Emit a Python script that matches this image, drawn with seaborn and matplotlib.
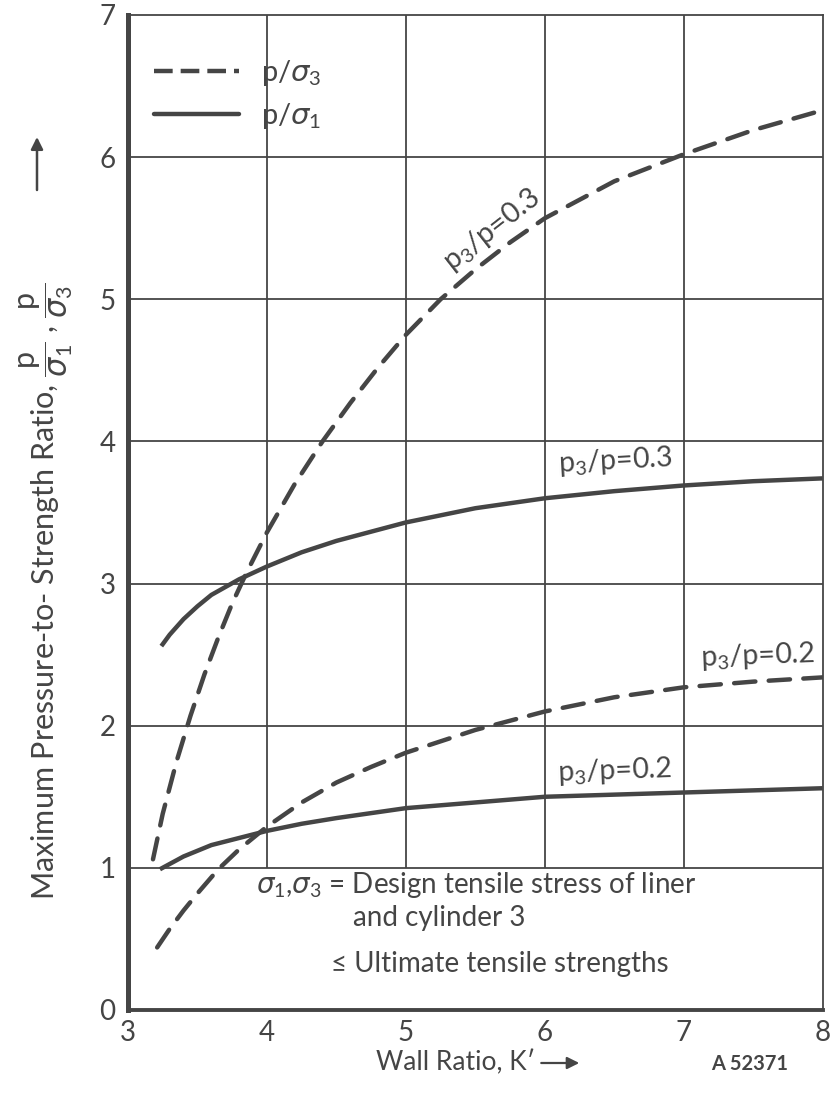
import numpy as np
import pandas as pd
import matplotlib
matplotlib.use("Agg")
import matplotlib.pyplot as plt
import seaborn as sns
from matplotlib.lines import Line2D

sns.set_theme(style="white")
plt.rcParams["font.family"] = ["Lato", "DejaVu Sans"]
plt.rcParams["mathtext.fontset"] = "custom"
plt.rcParams["mathtext.rm"] = "Lato"
plt.rcParams["mathtext.it"] = "DejaVu Sans:italic"
plt.rcParams["mathtext.sf"] = "Lato"

INK = "#454545"

# Wall ratio K' and pressure-to-strength ratios
k_s3_03 = [3.18, 3.25, 3.35, 3.45, 3.55, 3.65, 3.75, 3.85, 4.0, 4.2, 4.4, 4.6,
           4.8, 5.0, 5.25, 5.5, 5.75, 6.0, 6.5, 7.0, 7.5, 8.0]
r_s3_03 = [1.06, 1.38, 1.75, 2.07, 2.36, 2.62, 2.86, 3.07, 3.36, 3.70, 4.00, 4.27,
           4.52, 4.75, 5.00, 5.21, 5.40, 5.57, 5.83, 6.02, 6.19, 6.33]

k_s1_03 = [3.24, 3.3, 3.4, 3.5, 3.6, 3.8, 4.0, 4.25, 4.5, 5.0, 5.5, 6.0, 6.5, 7.0, 7.5, 8.0]
r_s1_03 = [2.56, 2.64, 2.75, 2.84, 2.92, 3.03, 3.12, 3.22, 3.30, 3.43, 3.53, 3.60,
           3.65, 3.69, 3.72, 3.74]

k_s3_02 = [3.21, 3.3, 3.4, 3.5, 3.65, 3.8, 4.0, 4.25, 4.5, 4.75, 5.0, 5.5, 6.0,
           6.5, 7.0, 7.5, 8.0]
r_s3_02 = [0.44, 0.57, 0.70, 0.82, 0.99, 1.13, 1.29, 1.46, 1.60, 1.71, 1.81, 1.97,
           2.10, 2.20, 2.27, 2.31, 2.34]

k_s1_02 = [3.23, 3.4, 3.6, 3.8, 4.0, 4.25, 4.5, 5.0, 5.5, 6.0, 7.0, 8.0]
r_s1_02 = [0.99, 1.08, 1.16, 1.21, 1.26, 1.31, 1.35, 1.42, 1.46, 1.50, 1.53, 1.56]

x_ticks = [3, 4, 5, 6, 7, 8]
y_ticks = [0, 1, 2, 3, 4, 5, 6, 7]

frames = []
for name, stress, k, r in [("s3_03", "p/σ3", k_s3_03, r_s3_03),
                           ("s1_03", "p/σ1", k_s1_03, r_s1_03),
                           ("s3_02", "p/σ3", k_s3_02, r_s3_02),
                           ("s1_02", "p/σ1", k_s1_02, r_s1_02)]:
    frames.append(pd.DataFrame({"K": k, "ratio": r, "curve": name, "stress": stress}))
df = pd.concat(frames, ignore_index=True)

W, H = 831, 1094
fig = plt.figure(figsize=(W / 100, H / 100), dpi=100)
ax = fig.add_axes([0.154, 0.0768, 0.836, 0.9095])

# grid: horizontal lines across, vertical lines only above ratio 1
ax.hlines(y_ticks[1:-1], 3, 8, color=INK, lw=1.3, zorder=1)
ax.vlines(x_ticks[1:-1], 1, 7, color=INK, lw=1.3, zorder=1)

sns.lineplot(data=df, x="K", y="ratio", units="curve", style="stress",
             estimator=None, sort=False, color=INK, lw=3.2,
             dashes={"p/σ3": (4.8, 3.0), "p/σ1": ""},
             legend=False, ax=ax, zorder=3)
for ln in ax.lines:
    ln.set_solid_capstyle("butt")
    ln.set_solid_joinstyle("round")
    ln.set_dash_capstyle("round")

ax.set_xlim(3, 8)
ax.set_ylim(0, 7)
ax.set_xticks(x_ticks)
ax.set_yticks(y_ticks)
ax.tick_params(axis="x", direction="in", length=11, width=1.2, color=INK,
               labelsize=20, labelcolor=INK, pad=7)
ax.tick_params(axis="y", length=0, labelsize=20, labelcolor=INK, pad=9)
ax.set_xlabel("")
ax.set_ylabel("")

for side, lw in [("left", 3.6), ("bottom", 2.8), ("top", 1.3), ("right", 1.3)]:
    ax.spines[side].set_visible(True)
    ax.spines[side].set_color(INK)
    ax.spines[side].set_linewidth(lw)

# legend
handles = [Line2D([], [], color=INK, lw=3.2, dashes=(4.2, 1.8)),
           Line2D([], [], color=INK, lw=3.2)]
leg = ax.legend(handles, [r"p/$\sigma_3$", r"p/$\sigma_1$"], loc="upper left",
                bbox_to_anchor=(0.0, 0.983), frameon=False, fontsize=21,
                handlelength=2.9, handletextpad=0.75, labelspacing=0.45)
for t in leg.get_texts():
    t.set_color(INK)

lab = dict(color=INK, fontsize=20.5, ha="center", va="center", rotation_mode="anchor")
ax.text(5.62, 5.49, r"p$_3$/p=0.3", rotation=38, **lab)
ax.text(6.51, 3.86, r"p$_3$/p=0.3", rotation=3, **lab)
ax.text(7.53, 2.49, r"p$_3$/p=0.2", rotation=2, **lab)
ax.text(6.50, 1.68, r"p$_3$/p=0.2", rotation=2, **lab)

note = dict(color=INK, fontsize=20, va="center")
ax.text(3.92, 0.88, r"$\sigma_1$,$\sigma_3$ = Design tensile stress of liner", **note)
ax.text(4.62, 0.65, "and cylinder 3", **note)
ax.text(4.46, 0.32, "≤ Ultimate tensile strengths", **note)

# axis titles with direction arrows
xlab = fig.text(376 / W, 1 - 1063 / H, "Wall Ratio, K′", color=INK, fontsize=19,
                ha="left", va="center")
fig.canvas.draw()
x_end = xlab.get_window_extent(fig.canvas.get_renderer()).x1
ax.annotate("", xy=(x_end + 44, H - 1063), xytext=(x_end + 6, H - 1063),
            xycoords="figure pixels", textcoords="figure pixels",
            arrowprops=dict(arrowstyle="-|>", color=INK, lw=1.6, mutation_scale=18,
                            shrinkA=0, shrinkB=0))
fig.text(0.902, 1 - 1064 / H, "A 52371", color=INK, fontsize=14.5,
         ha="center", va="center", weight="bold")
fig.text(0.055, 1 - 900 / H,
         r"Maximum Pressure-to- Strength Ratio, $\dfrac{\mathsf{p}}{\sigma_1}$ , "
         r"$\dfrac{\mathsf{p}}{\sigma_3}$",
         color=INK, fontsize=22, rotation=90, ha="center", va="bottom")
ax.annotate("", xy=(37, H - 137), xytext=(37, H - 190),
            xycoords="figure pixels", textcoords="figure pixels",
            arrowprops=dict(arrowstyle="-|>", color=INK, lw=1.8, mutation_scale=18,
                            shrinkA=0, shrinkB=0))

fig.savefig("out.png", dpi=100, facecolor="white")
